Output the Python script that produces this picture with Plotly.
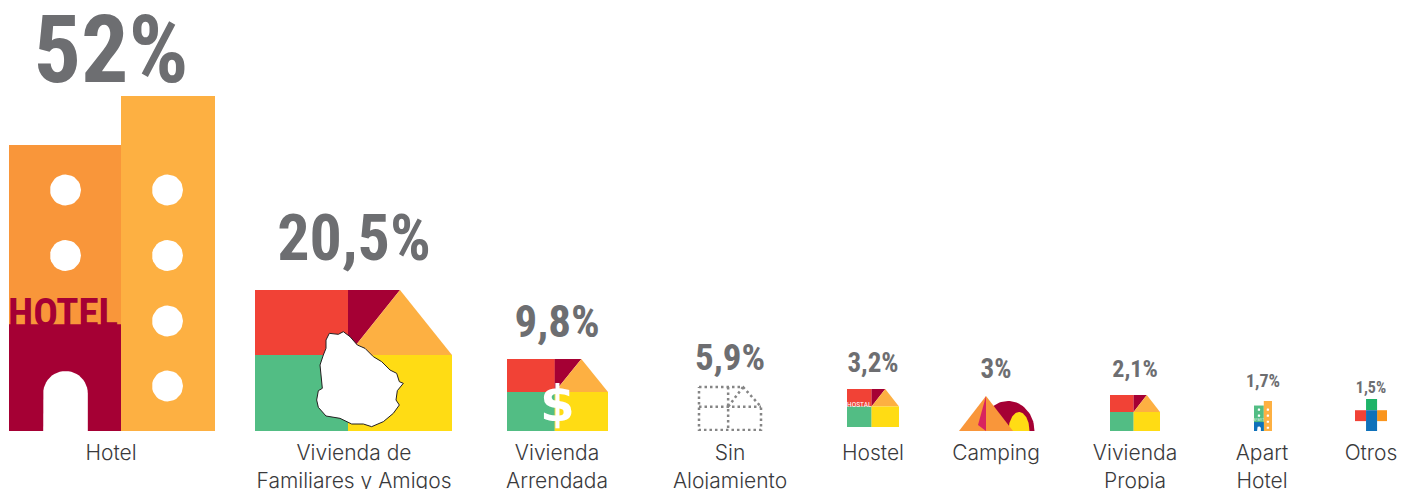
import math
import plotly.graph_objects as go

# ---------- data ----------
categories = ["Hotel", "Vivienda de<br>Familiares y Amigos", "Vivienda<br>Arrendada", "Sin<br>Alojamiento",
              "Hostel", "Camping", "Vivienda<br>Propia", "Apart<br>Hotel", "Otros"]
values = [52, 20.5, 9.8, 5.9, 3.2, 3, 2.1, 1.7, 1.5]

# ---------- layout of the pictograms (page pixels) ----------
label_centers = [111, 354, 557, 730, 873, 996, 1135, 1262, 1371]
value_centers = [111, 354, 557, 730, 873, 996, 1135, 1263, 1371]
value_baselines = [82, 260, 337, 370, 372, 378, 377, 387, 393]
value_sizes = [94, 64, 45, 37, 27, 27, 24, 18, 16]
boxes = {  # left, top, width, height
    "Hotel": (9, 96, 206, 335.5),
    "Familiares": (255, 290, 197, 141.5),
    "Arrendada": (507, 359, 101, 72),
    "Sin": (699, 387, 62, 43),
    "Hostel": (847, 389, 52, 38),
    "Propia": (1110, 395, 50, 37),
    "Apart": (1254, 401, 18, 31),
    "Otros": (1355, 399, 32, 33),
}

RED, MAROON, ORANGE, AMBER, GREEN, YELLOW = "#F14236", "#A50034", "#F9963A", "#FDB042", "#52BD84", "#FFDC14"
BLUE, GREY, WHITE = "#0F71BA", "#6D6E71", "#FFFFFF"

HOUSE = {"split_x": 0.472, "apex_x": 0.736, "split_y": 0.46}
URUGUAY = [(268, 400), (295, 403), (310, 395), (330, 410), (352, 435), (375, 445), (400, 470), (425, 485),
           (450, 510), (470, 520), (478, 545), (490, 550), (472, 572), (468, 600), (478, 615), (460, 640),
           (430, 665), (395, 680), (370, 672), (335, 672), (300, 655), (258, 648), (235, 622), (230, 600),
           (235, 572), (247, 565), (243, 525), (240, 495), (250, 465), (258, 445), (258, 420), (268, 400)]

fig = go.Figure()


def poly(pts, color, line=None, width=0, dash=None, close=True):
    xs = [p[0] for p in pts]
    ys = [p[1] for p in pts]
    if close:
        xs.append(xs[0])
        ys.append(ys[0])
    fig.add_trace(go.Scatter(
        x=xs, y=ys, mode="lines", fill="toself" if color else "none", fillcolor=color,
        line=dict(color=line or "rgba(0,0,0,0)", width=width, dash=dash),
        hoverinfo="skip", showlegend=False, cliponaxis=False))


def box_map(name):
    l, t, w, h = boxes[name]
    return lambda u, v: (l + u * w, t + v * h)


def rect(m, u0, v0, u1, v1, color):
    poly([m(u0, v0), m(u1, v0), m(u1, v1), m(u0, v1)], color)


def ellipse(cx, cy, rx, ry, color, a0=0, a1=360, n=48):
    pts = [(cx + rx * math.cos(math.radians(a0 + (a1 - a0) * i / n)),
            cy + ry * math.sin(math.radians(a0 + (a1 - a0) * i / n))) for i in range(n + 1)]
    poly(pts, color)


def house(name):
    m = box_map(name)
    sx, ax, sy = HOUSE["split_x"], HOUSE["apex_x"], HOUSE["split_y"]
    rect(m, 0, 0, sx + .002, sy + .002, RED)
    poly([m(sx, 0), m(ax, 0), m(sx, sy)], MAROON)
    poly([m(ax, 0), m(1, sy), m(sx, sy)], AMBER)
    rect(m, 0, sy, sx + .002, 1, GREEN)
    rect(m, sx, sy, 1, 1, YELLOW)


def hotel(name, cols):
    l, t, w, h = boxes[name]
    m = box_map(name)
    sp = 112 / 206
    rect(m, 0, 0.146, sp + .002, 1, cols[0])
    rect(m, sp, 0, 1, 1, cols[1])
    rect(m, 0, 0.68, sp, 1, cols[2])
    # door
    cx = l + 56.5 / 206 * w
    rx = 22.3 / 206 * w
    dt = t + (371 - 96) / 335.5 * h
    arc = [(cx + rx * math.cos(math.radians(180 + 180 * i / 24)),
            dt + rx + rx * math.sin(math.radians(180 + 180 * i / 24))) for i in range(25)]
    poly([(cx - rx, t + h)] + arc + [(cx + rx, t + h)], WHITE)
    # windows
    r = 15.5 / 206 * w
    ws = [(56.5, 94), (56.5, 159.5), (158.5, 94), (158.5, 159.5), (158.5, 225), (158.5, 290)]
    for u, v in ws:
        ellipse(l + u / 206 * w, t + v / 335.5 * h, r, r, WHITE, n=32)


hotel("Hotel", (ORANGE, AMBER, MAROON))
house("Familiares")
poly([(240 + x / 3, 200 + y / 3) for x, y in URUGUAY], WHITE, line="#231F20", width=1)
house("Arrendada")
# Sin alojamiento (dotted)
m = box_map("Sin")
sx, ax, sy = 0.47, 0.71, 0.46
dot = "2.5px,3px"
DG = "#858585"
poly([m(0, 0), m(ax, 0), m(1, sy), m(1, 1), m(0, 1)], None, line=DG, width=2.5, dash=dot)
poly([m(0, sy), m(1, sy)], None, line=DG, width=2.5, dash=dot, close=False)
poly([m(sx, 0), m(sx, 1)], None, line=DG, width=2.5, dash=dot, close=False)
poly([m(ax, 0), m(sx, sy)], None, line=DG, width=2.5, dash=dot, close=False)
house("Hostel")
# Camping
ellipse(1008, 431, 26.5, 30, MAROON, 180, 360)
ellipse(1019, 431, 10.5, 19, YELLOW, 180, 360)
poly([(959, 431), (986, 396), (1013, 431)], ORANGE)
poly([(986, 396), (978, 425), (986, 431)], "#D9235F")
house("Propia")
hotel("Apart", (GREEN, AMBER, BLUE))
# Otros
m = box_map("Otros")
rect(m, .345, 0, .69, .34, "#1DB368")
rect(m, 0, .34, .345, .67, RED)
rect(m, .69, .34, 1, .67, "#FA951D")
rect(m, .345, .34, .69, 1, BLUE)

# value labels (the text box sits about a quarter of the font size below the baseline)
fig.add_trace(go.Scatter(
    x=value_centers, y=[b + 0.25 * s for b, s in zip(value_baselines, value_sizes)], mode="text",
    text=[f"{v:g}%".replace(".", ",") for v in values],
    textposition="top center",
    textfont=dict(family="Roboto Condensed", size=value_sizes, color=GREY, weight=700),
    hoverinfo="skip", showlegend=False, cliponaxis=False))

anns = [
    dict(x=63, y=312.5, text="HOTEL", font=dict(family="Roboto Condensed", size=41, color=MAROON, weight=700)),
    dict(x=557, y=404, text="$", font=dict(family="DejaVu Sans", size=50, color=WHITE, weight=700)),
    dict(x=859.5, y=404, text="HOSTAL", font=dict(family="Roboto Condensed", size=7.5, color=WHITE)),
    dict(x=1258.5, y=420, text="APART", font=dict(family="Liberation Sans", size=3.5, color="#CFEBDD")),
]
for a in anns:
    fig.add_annotation(xref="x", yref="y", showarrow=False, xanchor="center", yanchor="middle", borderpad=0, **a)

fig.update_layout(
    width=1403, height=489, margin=dict(l=0, r=0, t=0, b=58),
    paper_bgcolor="white", plot_bgcolor="white", showlegend=False,
    xaxis=dict(range=[0, 1403], showgrid=False, zeroline=False, showline=False, automargin=False,
               tickmode="array", tickvals=label_centers, ticktext=categories,
               ticks="outside", ticklen=3, tickcolor="rgba(0,0,0,0)", tickangle=0,
               tickfont=dict(family="Inter", size=21, color="#3A3A3C", weight=300)),
    yaxis=dict(range=[431, 0], visible=False, automargin=False),
)
fig.write_html("out.html", config={"displayModeBar": False},
               post_script="document.body.style.margin='0';document.documentElement.style.overflow='hidden';")
